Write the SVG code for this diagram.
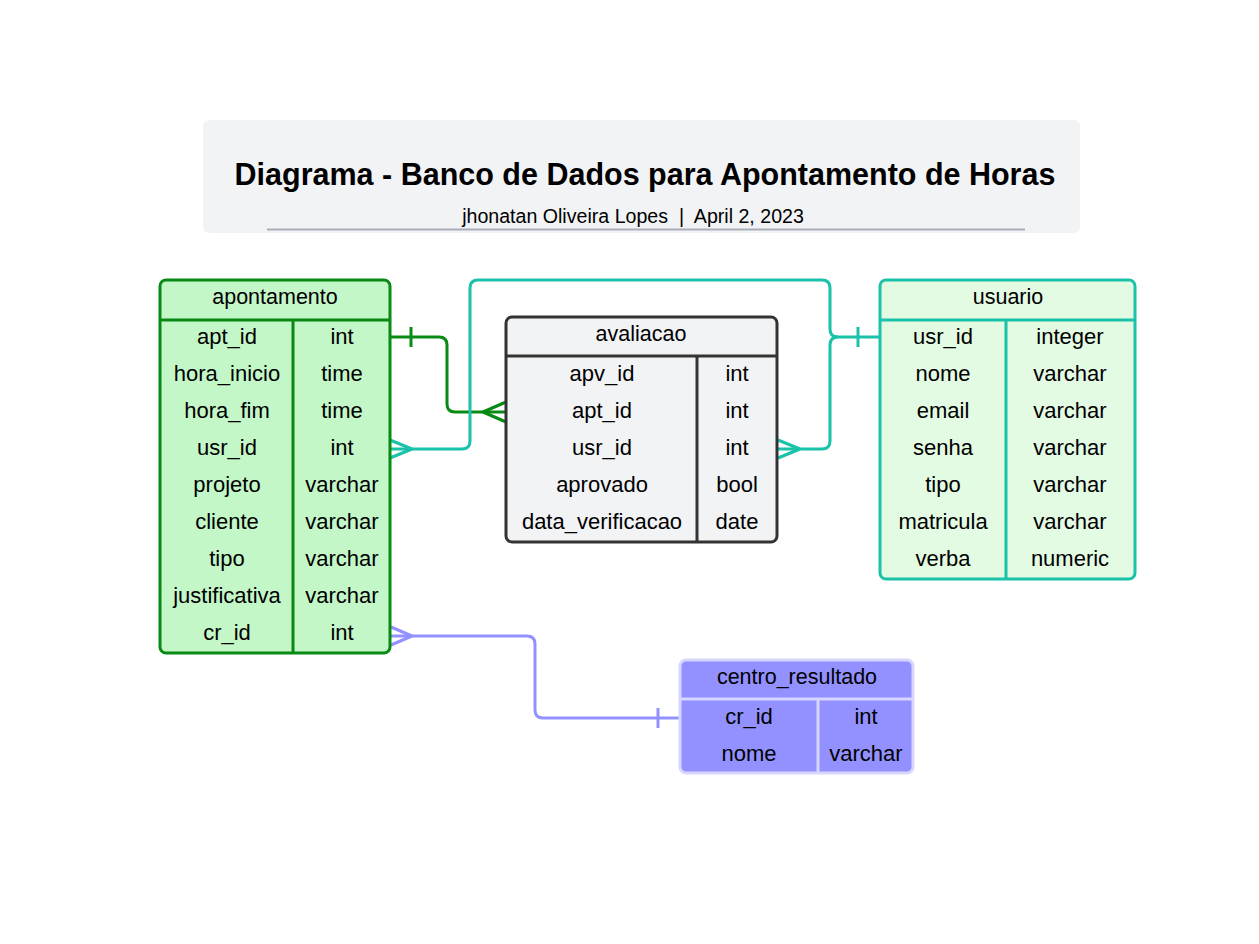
<svg xmlns="http://www.w3.org/2000/svg" width="1259" height="944" viewBox="0 0 1259 944">
<style>
text{font-family:"Liberation Sans",Arial,sans-serif;fill:#000;text-anchor:middle;dominant-baseline:central}
.h{font-size:21.5px}
.r{font-size:22px}
.g{stroke:#088a14;stroke-width:3;fill:none}
.t{stroke:#19c2a8;stroke-width:3;fill:none}
.p{stroke:#9391ff;stroke-width:3;fill:none}
.k{stroke:#333;stroke-width:3;fill:none}
.w{stroke:#d6d6ff;stroke-width:3;fill:none}
</style>
<rect width="1259" height="944" fill="#fff"/>
<g id="title">
<rect x="203" y="120" width="877" height="113" rx="6" fill="#f2f3f5"/>
<text x="645" y="174" style="font-size:30.5px;font-weight:bold">Diagrama - Banco de Dados para Apontamento de Horas</text>
<text x="633" y="216" style="font-size:19.6px;white-space:pre">jhonatan Oliveira Lopes  |  April 2, 2023</text>
<line x1="267" y1="229.5" x2="1025" y2="229.5" stroke="#a8adb8" stroke-width="2"/>
</g>
<g id="connectors">
<path class="g" d="M390 337 H439 q8 0 8 8 V404 q0 8 8 8 H506"/>
<line class="g" x1="411" y1="327" x2="411" y2="347"/>
<path class="g" d="M483 412 L506 402 M483 412 L506 422"/>
<path class="t" d="M390 449 H462 q8 0 8 -8 V288 q0 -8 8 -8 H822 q8 0 8 8 V329 q0 8 8 8 H880"/>
<path class="t" d="M777 449 H822 q8 0 8 -8 V345 q0 -8 8 -8"/>
<line class="t" x1="858" y1="327" x2="858" y2="347"/>
<path class="t" d="M412 449 L390 440 M412 449 L390 458"/>
<path class="t" d="M800 449 L778 440 M800 449 L778 458"/>
<path class="p" d="M390 636 H527 q8 0 8 8 V710 q0 8 8 8 H680"/>
<line class="p" x1="658" y1="708" x2="658" y2="728"/>
<path class="p" d="M412 636 L391 627 M412 636 L391 645"/>
</g>
<g id="apontamento">
<rect x="160" y="280" width="230" height="373" rx="6" class="g" style="fill:#c3f7c8"/>
<line class="g" x1="160" y1="320" x2="390" y2="320"/>
<line class="g" x1="293" y1="320" x2="293" y2="653"/>
<text class="h" x="275" y="297">apontamento</text>
<text class="r" x="227" y="336">apt_id</text><text class="r" x="342" y="336">int</text>
<text class="r" x="227" y="373">hora_inicio</text><text class="r" x="342" y="373">time</text>
<text class="r" x="227" y="410">hora_fim</text><text class="r" x="342" y="410">time</text>
<text class="r" x="227" y="447">usr_id</text><text class="r" x="342" y="447">int</text>
<text class="r" x="227" y="484">projeto</text><text class="r" x="342" y="484">varchar</text>
<text class="r" x="227" y="521">cliente</text><text class="r" x="342" y="521">varchar</text>
<text class="r" x="227" y="558">tipo</text><text class="r" x="342" y="558">varchar</text>
<text class="r" x="227" y="595">justificativa</text><text class="r" x="342" y="595">varchar</text>
<text class="r" x="227" y="632">cr_id</text><text class="r" x="342" y="632">int</text>
</g>
<g id="avaliacao">
<rect x="506" y="317" width="271" height="225" rx="6" class="k" style="fill:#f2f3f5"/>
<line class="k" x1="506" y1="356" x2="777" y2="356"/>
<line class="k" x1="697" y1="356" x2="697" y2="542"/>
<text class="h" x="641" y="334">avaliacao</text>
<text class="r" x="602" y="373">apv_id</text><text class="r" x="737" y="373">int</text>
<text class="r" x="602" y="410">apt_id</text><text class="r" x="737" y="410">int</text>
<text class="r" x="602" y="447">usr_id</text><text class="r" x="737" y="447">int</text>
<text class="r" x="602" y="484">aprovado</text><text class="r" x="737" y="484">bool</text>
<text class="r" x="602" y="521">data_verificacao</text><text class="r" x="737" y="521">date</text>
</g>
<g id="usuario">
<rect x="880" y="280" width="255" height="299" rx="6" class="t" style="fill:#e3fae3"/>
<line class="t" x1="880" y1="320" x2="1135" y2="320"/>
<line class="t" x1="1006" y1="320" x2="1006" y2="579"/>
<text class="h" x="1008" y="297">usuario</text>
<text class="r" x="943" y="336">usr_id</text><text class="r" x="1070" y="336">integer</text>
<text class="r" x="943" y="373">nome</text><text class="r" x="1070" y="373">varchar</text>
<text class="r" x="943" y="410">email</text><text class="r" x="1070" y="410">varchar</text>
<text class="r" x="943" y="447">senha</text><text class="r" x="1070" y="447">varchar</text>
<text class="r" x="943" y="484">tipo</text><text class="r" x="1070" y="484">varchar</text>
<text class="r" x="943" y="521">matricula</text><text class="r" x="1070" y="521">varchar</text>
<text class="r" x="943" y="558">verba</text><text class="r" x="1070" y="558">numeric</text>
</g>
<g id="centro_resultado">
<rect x="680" y="660" width="233" height="113" rx="6" class="w" style="fill:#9391ff"/>
<line class="w" x1="680" y1="699" x2="913" y2="699"/>
<line class="w" x1="818" y1="699" x2="818" y2="773"/>
<text class="h" x="797" y="677">centro_resultado</text>
<text class="r" x="749" y="716">cr_id</text><text class="r" x="866" y="716">int</text>
<text class="r" x="749" y="753">nome</text><text class="r" x="866" y="753">varchar</text>
</g>
</svg>
